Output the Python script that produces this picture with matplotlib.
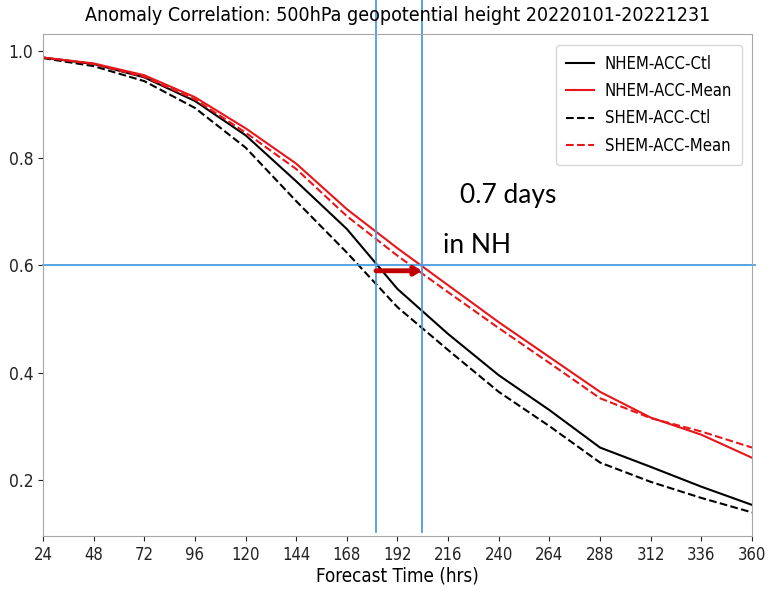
import matplotlib
matplotlib.use("Agg")
import matplotlib.pyplot as plt

# Forecast hours and anomaly correlation values
hours = [24, 48, 72, 96, 120, 144, 168, 192, 216, 240, 264, 288, 312, 336, 360]
nhem_ctl = [0.988, 0.976, 0.951, 0.907, 0.843, 0.757, 0.668, 0.556, 0.472, 0.395, 0.330, 0.260, 0.224, 0.187, 0.153]
nhem_mean = [0.988, 0.977, 0.955, 0.914, 0.856, 0.790, 0.705, 0.632, 0.563, 0.494, 0.429, 0.364, 0.316, 0.284, 0.241]
shem_ctl = [0.987, 0.972, 0.944, 0.894, 0.820, 0.720, 0.624, 0.522, 0.442, 0.364, 0.300, 0.232, 0.196, 0.166, 0.139]
shem_mean = [0.988, 0.976, 0.952, 0.910, 0.848, 0.780, 0.692, 0.618, 0.550, 0.483, 0.418, 0.352, 0.315, 0.290, 0.260]

x_ticks = list(range(24, 361, 24))
y_ticks = [0.2, 0.4, 0.6, 0.8, 1.0]

# annotation: ctl and mean reach ACC=0.6 at these forecast hours
acc_level = 0.6
t_ctl = 181.8
t_mean = 203.6

plt.rcParams['font.family'] = ['DejaVu Sans']
plt.rcParams['font.stretch'] = 'condensed'

fig = plt.figure(figsize=(7.69, 5.91), dpi=100)
ax = fig.add_axes([0.0559, 0.0931, 0.922, 0.8494])

ax.plot(hours, nhem_ctl, color='black', lw=1.5, label='NHEM-ACC-Ctl')
ax.plot(hours, nhem_mean, color='#e8161b', lw=1.5, label='NHEM-ACC-Mean')
ax.plot(hours, shem_ctl, color='black', lw=1.5, ls='--', label='SHEM-ACC-Ctl')
ax.plot(hours, shem_mean, color='#e8161b', lw=1.5, ls='--', label='SHEM-ACC-Mean')

ax.set_xlim(24, 360)
ax.set_ylim(0.095, 1.032)
ax.set_xticks(x_ticks)
ax.set_yticks(y_ticks)
ax.tick_params(labelsize=12.5, colors='#222222')
ax.tick_params(axis='x', labelsize=12)
for s in ax.spines.values():
    s.set_color('#a8a8a8')
ax.set_title('Anomaly Correlation: 500hPa geopotential height 20220101-20221231',
             fontsize=14, pad=9)
ax.set_xlabel('Forecast Time (hrs)', fontsize=13.5, labelpad=2)

leg = ax.legend(loc='upper right', fontsize=12, handlelength=1.7,
                handletextpad=0.65, borderpad=0.6, labelspacing=0.55,
                borderaxespad=0, bbox_to_anchor=(0.986, 0.978))
leg.get_frame().set_edgecolor('#cccccc')

# blue guide lines
blue = '#4c9be0'
ax.axhline(acc_level, xmin=0, xmax=1.004, color=blue, lw=1.3, clip_on=False)
ax.axvline(t_ctl, ymin=0.008, ymax=1.068, color=blue, lw=1.3, clip_on=False)
ax.axvline(t_mean, ymin=0.008, ymax=1.068, color=blue, lw=1.3, clip_on=False)

ax.annotate('', xy=(t_mean, acc_level - 0.01), xytext=(t_ctl, acc_level - 0.01),
            arrowprops=dict(arrowstyle='-|>,head_length=0.4,head_width=0.25',
                            color='#c00000', lw=3.5, shrinkA=0, shrinkB=0))

ax.text(221.6, 0.73, '0.7 days', fontsize=19, family=['Lato', 'DejaVu Sans'],
        stretch='normal', ha='left', va='center')
ax.text(213.6, 0.637, 'in NH', fontsize=19, family=['Lato', 'DejaVu Sans'],
        stretch='normal', ha='left', va='center')

fig.savefig('out.png', dpi=100)
